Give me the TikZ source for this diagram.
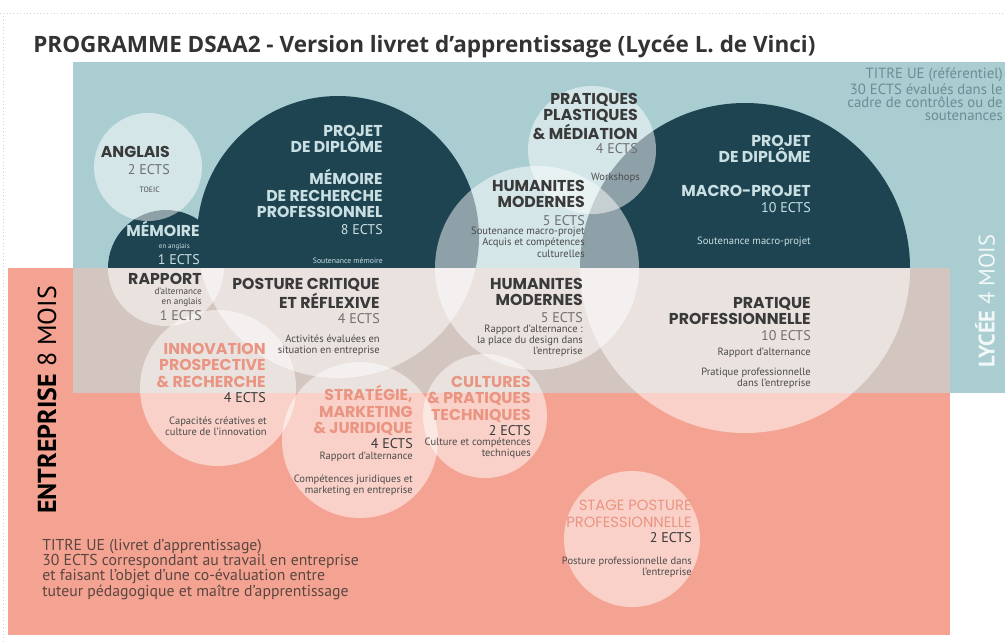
\documentclass[tikz,border=0pt]{standalone}
\usepackage{fontspec}
\setmainfont{PT Sans}
\newfontfamily\uefont{Poppins}
\newfontfamily\titrefont{Open Sans}
\usetikzlibrary{positioning}
\definecolor{lycee}{HTML}{A9CDD1}
\definecolor{projet}{HTML}{1E4452}
\definecolor{entreprise}{HTML}{F4A392}
\definecolor{alternance}{HTML}{D3C5BF}
\definecolor{titre}{HTML}{333333}
\definecolor{encre}{HTML}{3A3A3A}
\definecolor{grisects}{HTML}{707070}
\definecolor{clair}{HTML}{C9DFE2}
\definecolor{saumon}{HTML}{EA9482}
\definecolor{notegris}{HTML}{4A4A4A}
\definecolor{referentiel}{HTML}{6B8D93}
\definecolor{brun}{HTML}{5A4640}

\begin{document}
\begin{tikzpicture}[x=0.025cm, y=-0.025cm,
    uetitre/.style={font=\uefont\fontsize{11.2}{11.7}\selectfont\bfseries, align=right, inner sep=0pt, anchor=north east, text=encre},
    uects/.style={font=\fontsize{10}{11}\selectfont, align=right, inner sep=0pt, anchor=north east, text=grisects},
    uenote/.style={font=\fontsize{7.5}{7.9}\selectfont, align=right, inner sep=0pt, anchor=north east, text=notegris},
    petit/.style={font=\fontsize{5.5}{6.5}\selectfont},
    voile/.style={fill=white, fill opacity=0.5}]
    \useasboundingbox (0,0) rectangle (1005,641);
    \clip (0,0) rectangle (1005,641);

    % fonds
    \draw[gray!35, dotted] (0,13) -- (1005,13);
    \draw[gray!35, dotted] (3,13) -- (3,641);
    \fill[lycee] (73,62) rectangle (1010,393);

    % projets (demi-disques sombres)
    \begin{scope}
        \clip (0,0) rectangle (1005,268);
        \fill[projet] (338,237) circle (141);
        \fill[projet] (166,268) circle (58);
        \fill[projet] (745,268) circle (165);
    \end{scope}

    \fill[entreprise] (8,268) rectangle (950,635);
    \fill[alternance] (73,268) rectangle (950,393);

    % disques clairs
    \fill[voile] (148,167) circle (54);
    \fill[voile] (592,150) circle (64);
    \fill[voile] (537,268) circle (102);
    \begin{scope}
        \clip (0,268) rectangle (1005,641);
        \fill[voile] (166,268) circle (58);
        \fill[voile] (338,237) circle (141);
        \fill[voile] (745,268) circle (165);
    \end{scope}
    \fill[voile] (218,388) circle (78);
    \fill[voile] (360,440) circle (78);
    \fill[voile] (485,416) circle (62);
    \fill[voile] (632,539) circle (68);

    % titre
    \node[anchor=base west, inner sep=0pt, font=\titrefont\fontsize{16}{19}\selectfont\bfseries, text=titre] (titre) at (33,52)
        {PROGRAMME DSAA2 - Version livret d’apprentissage (Lycée L. de Vinci)};

    % anglais
    \node[uetitre] (anglais) at (170,146) {ANGLAIS};
    \node[uects] (anglais-ects) at (170,164) {2 ECTS};
    \node[uenote, petit] (anglais-note) at (160,187) {TOEIC};

    % memoire en anglais
    \node[uetitre, text=clair] (memoire) at (200,221) {MÉMOIRE};
    \node[uenote, font=\fontsize{5}{6}\selectfont, text=clair] (memoire-note) at (190,243) {en anglais};
    \node[uects, text=clair] (memoire-ects) at (200,254) {1 ECTS};

    % memoire de recherche
    \node[uetitre, text=clair] (diplome) at (383,125) {PROJET\\DE DIPLÔME};
    \node[uetitre, text=clair] (recherche) at (383,169) {MÉMOIRE\\DE RECHERCHE\\PROFESSIONNEL};
    \node[uects, text=clair] (recherche-ects) at (383,224) {8 ECTS};
    \node[uenote, petit, text=clair] (recherche-note) at (383,258) {Soutenance mémoire};

    % rapport
    \node[uetitre] (rapport) at (202,273) {RAPPORT};
    \node[uenote, font=\fontsize{6.5}{7.2}\selectfont] (rapport-note) at (202,288) {d'alternance\\en anglais};
    \node[uects] (rapport-ects) at (202,310) {1 ECTS};

    % posture critique
    \node[uetitre] (posture) at (380,278) {POSTURE CRITIQUE\\ET RÉFLEXIVE};
    \node[uects] (posture-ects) at (380,313) {4 ECTS};
    \node[uenote] (posture-note) at (380,335) {Activités évaluées en\\situation en entreprise};

    % innovation
    \node[uetitre, text=saumon] (innovation) at (266,343) {INNOVATION\\PROSPECTIVE\\\& RECHERCHE};
    \node[uects, text=encre] (innovation-ects) at (266,392) {4 ECTS};
    \node[uenote] (innovation-note) at (267,417) {Capacités créatives et\\culture de l'innovation};

    % strategie
    \node[uetitre, text=saumon] (strategie) at (413,385) {STRATÉGIE,\\MARKETING\\\& JURIDIQUE};
    \node[uects, text=encre] (strategie-ects) at (413,438) {4 ECTS};
    \node[uenote] (strategie-rapport) at (413,452) {Rapport d'alternance};
    \node[uenote] (strategie-note) at (413,475) {Compétences juridiques et\\marketing en entreprise};

    % cultures
    \node[uetitre, text=saumon] (cultures) at (531,376) {CULTURES\\\& PRATIQUES\\TECHNIQUES};
    \node[uects, text=encre] (cultures-ects) at (531,425) {2 ECTS};
    \node[uenote] (cultures-note) at (531,438) {Culture et compétences\\techniques};

    % pratiques plastiques
    \node[uetitre] (plastiques) at (638,93) {PRATIQUES\\PLASTIQUES\\\& MÉDIATION};
    \node[uects] (plastiques-ects) at (638,143) {4 ECTS};
    \node[uenote] (plastiques-note) at (640,173) {Workshops};

    % humanites (lycee)
    \node[uetitre] (humanites) at (585,180) {HUMANITES\\MODERNES};
    \node[uects] (humanites-ects) at (585,215) {5 ECTS};
    \node[uenote] (humanites-note) at (585,227) {Soutenance macro-projet\\Acquis et compétences\\culturelles};

    % humanites (entreprise)
    \node[uetitre] (humanites-alt) at (583,278) {HUMANITES\\MODERNES};
    \node[uects] (humanites-alt-ects) at (583,312) {5 ECTS};
    \node[uenote] (humanites-alt-note) at (583,325) {Rapport d'alternance :\\la place du design dans\\l'entreprise};

    % macro-projet
    \node[uetitre, text=clair] (diplome-macro) at (811,135) {PROJET\\DE DIPLÔME};
    \node[uetitre, text=clair] (macro) at (811,185) {MACRO-PROJET};
    \node[uects, text=clair] (macro-ects) at (811,202) {10 ECTS};
    \node[uenote, text=clair] (macro-note) at (811,237) {Soutenance macro-projet};

    % pratique professionnelle
    \node[uetitre] (pratique) at (811,297) {PRATIQUE\\PROFESSIONNELLE};
    \node[uects] (pratique-ects) at (811,330) {10 ECTS};
    \node[uenote] (pratique-rapport) at (811,348) {Rapport d'alternance};
    \node[uenote] (pratique-note) at (811,368) {Pratique professionnelle\\dans l'entreprise};

    % stage
    \node[uetitre, font=\uefont\fontsize{10.5}{11.7}\selectfont, text=saumon] (stage) at (692,500) {STAGE POSTURE\\PROFESSIONNELLE};
    \node[uects, text=encre] (stage-ects) at (692,532) {2 ECTS};
    \node[uenote] (stage-note) at (692,557) {Posture professionnelle dans\\l'entreprise};

    % reperes
    \node[anchor=north east, align=right, inner sep=0pt, font=\fontsize{10.5}{9.4}\selectfont, text=referentiel] (referentiel) at (1003,68)
        {TITRE UE (référentiel)\\30 ECTS évalués dans le\\cadre de contrôles ou de\\soutenances};
    \node[rotate=90, inner sep=0pt, font=\fontsize{16}{19}\selectfont, text=white!85!lycee] (lycee) at (985,301) {\textbf{LYCÉE} 4 MOIS};
    \node[rotate=90, inner sep=0pt, font=\fontsize{18.5}{22}\selectfont, text=black] (entreprise) at (47,400) {\textbf{ENTREPRISE} 8 MOIS};
    \node[anchor=north west, align=left, inner sep=0pt, font=\fontsize{11.2}{10.8}\selectfont, text=brun] (livret) at (42,539)
        {TITRE UE (livret d'apprentissage)\\30 ECTS correspondant au travail en entreprise\\et faisant l'objet d'une co-évaluation entre\\tuteur pédagogique et maître d'apprentissage};
\end{tikzpicture}
\end{document}
